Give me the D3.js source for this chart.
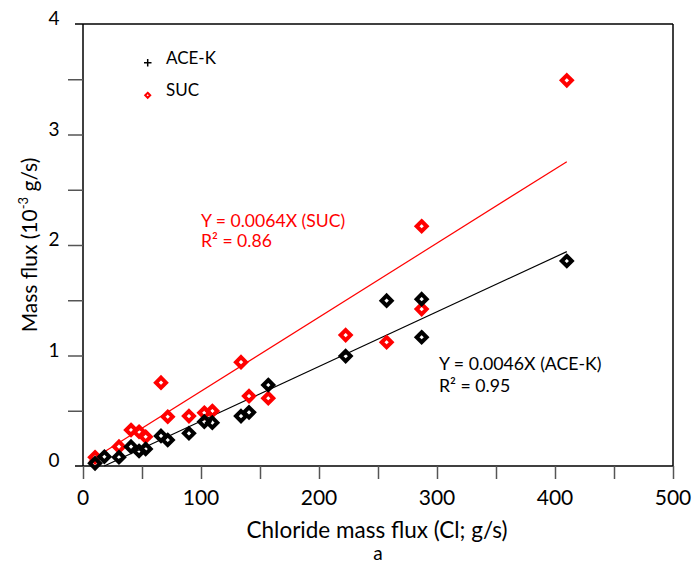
<!DOCTYPE html>
<html>
<head>
<meta charset="utf-8">
<script src="https://cdn.jsdelivr.net/npm/d3@7"></script>
<style>
  body { margin: 0; background: #fff; }
  svg text { font-family: Lato, "Open Sans", sans-serif; }
</style>
</head>
<body>
<svg id="chart" width="693" height="561"></svg>
<script>
// chloride mass flux (g/s) for each sample
const aceX = [10.2, 18.1, 30.5, 40.7, 47.5, 53.1, 66.1, 71.8, 89.8, 102.8, 109.6, 133.9, 140.7, 157, 222.6, 257.3, 287, 287, 410];
const aceY = [0.024, 0.084, 0.079, 0.175, 0.136, 0.154, 0.272, 0.235, 0.296, 0.401, 0.392, 0.452, 0.486, 0.733, 0.995, 1.496, 1.51, 1.165, 1.855];
const sucX = [10.2, 30.5, 40.7, 47.5, 53.1, 66.1, 71.8, 89.8, 102.8, 109.6, 133.9, 140.7, 157, 222.6, 257.3, 287, 287, 410];
const sucY = [0.079, 0.175, 0.326, 0.31, 0.265, 0.754, 0.446, 0.452, 0.482, 0.498, 0.94, 0.633, 0.613, 1.185, 1.12, 2.17, 1.42, 3.49];

// fitted lines, end points
const aceFitX = [18, 410];
const aceFitY = [0, 1.94];
const sucFitX = [5, 410];
const sucFitY = [0.04, 2.754];

const xTicks = [0, 100, 200, 300, 400, 500];
const yTicks = [0, 1, 2, 3, 4];

const margin = {top: 24, right: 20, bottom: 95, left: 83};
const width = 693, height = 561;
const svg = d3.select("#chart");

const x = d3.scaleLinear().domain([0, 500]).range([margin.left, width - margin.right]);
const y = d3.scaleLinear().domain([0, 4]).range([height - margin.bottom, margin.top]);

const red = "#ff0000";
const tickColor = "#555";

// frame top + right
svg.append("line")
    .attr("x1", x(0) - 8).attr("x2", x(500))
    .attr("y1", y(4)).attr("y2", y(4))
    .attr("stroke", "#000").attr("stroke-width", 1.5);
svg.append("line")
    .attr("x1", x(500)).attr("x2", x(500))
    .attr("y1", y(4)).attr("y2", y(0))
    .attr("stroke", "#000").attr("stroke-width", 1.5);

// x axis
const xAxis = svg.append("g")
    .attr("transform", `translate(0,${y(0)})`)
    .call(d3.axisBottom(x).tickValues(d3.range(0, 501, 50)).tickSize(13).tickFormat(""));
xAxis.select(".domain").attr("stroke", "#000").attr("stroke-width", 1.5)
    .attr("d", `M${x(0) - 8},0H${x(500)}`);
xAxis.selectAll(".tick line").attr("stroke", tickColor).attr("stroke-width", 1.5);

svg.append("g").selectAll("text")
    .data(xTicks)
    .join("text")
    .attr("x", d => x(d))
    .attr("y", y(0) + 39)
    .attr("text-anchor", "middle")
    .attr("font-size", 21)
    .text(d => d);

// y axis
const yAxis = svg.append("g")
    .attr("transform", `translate(${x(0)},0)`)
    .call(d3.axisLeft(y).tickValues(d3.range(0.5, 4, 0.5)).tickSize(15).tickFormat(""));
yAxis.select(".domain").attr("stroke", "#000").attr("stroke-width", 1.5)
    .attr("d", `M0,${y(4)}V${y(0)}`);
yAxis.selectAll(".tick line").attr("stroke", tickColor).attr("stroke-width", 1.5);

svg.append("g").selectAll("text")
    .data(yTicks)
    .join("text")
    .attr("x", x(0) - 29)
    .attr("y", d => y(d) + 1)
    .attr("text-anchor", "middle")
    .attr("font-size", 19)
    .text(d => d);

// axis titles
svg.append("text")
    .attr("x", 377).attr("y", 538)
    .attr("text-anchor", "middle")
    .attr("font-size", 22.5)
    .text("Chloride mass flux (Cl; g/s)");
svg.append("text")
    .attr("x", 378).attr("y", 560)
    .attr("text-anchor", "middle")
    .attr("font-size", 19)
    .text("a");

const yTitle = svg.append("text")
    .attr("transform", `translate(37,245) rotate(-90)`)
    .attr("text-anchor", "middle")
    .attr("font-size", 21);
yTitle.append("tspan").text("Mass flux (10");
yTitle.append("tspan").attr("font-size", 13).attr("dy", -9).text("-3");
yTitle.append("tspan").attr("dy", 9).text(" g/s)");

// fit lines
const line = d3.line().x(d => x(d[0])).y(d => y(d[1]));
svg.append("path")
    .attr("d", line(d3.zip(aceFitX, aceFitY)))
    .attr("stroke", "#000").attr("stroke-width", 1.2).attr("fill", "none");
svg.append("path")
    .attr("d", line(d3.zip(sucFitX, sucFitY)))
    .attr("stroke", red).attr("stroke-width", 1.2).attr("fill", "none");

// diamond markers
const diamond = (r) => `M0,${-r}L${r},0L0,${r}L${-r},0Z`;

svg.append("g").selectAll("path")
    .data(d3.zip(sucX, sucY))
    .join("path")
    .attr("transform", d => `translate(${x(d[0])},${y(d[1])})`)
    .attr("d", diamond(5))
    .attr("fill", "none").attr("stroke", red).attr("stroke-width", 4);

svg.append("g").selectAll("path")
    .data(d3.zip(aceX, aceY))
    .join("path")
    .attr("transform", d => `translate(${x(d[0])},${y(d[1])})`)
    .attr("d", diamond(5))
    .attr("fill", "none").attr("stroke", "#000").attr("stroke-width", 4);

// legend
const legend = svg.append("g");
legend.append("path")
    .attr("d", "M144,62.7H151.5M147.7,59V66.5")
    .attr("stroke", "#000").attr("stroke-width", 1.5);
legend.append("text")
    .attr("x", 166).attr("y", 64)
    .attr("font-size", 17)
    .text("ACE-K");
legend.append("path")
    .attr("transform", "translate(147.7,95.3)")
    .attr("d", diamond(2.5))
    .attr("fill", "none").attr("stroke", red).attr("stroke-width", 2);
legend.append("text")
    .attr("x", 166).attr("y", 96)
    .attr("font-size", 17)
    .text("SUC");

// equations
const sucEq = svg.append("text")
    .attr("x", 201).attr("y", 227)
    .attr("font-size", 17.6).attr("fill", red);
sucEq.append("tspan").text("Y = 0.0064X (SUC)");
sucEq.append("tspan").attr("x", 201).attr("dy", 20).text("R² = 0.86");

const aceEq = svg.append("text")
    .attr("x", 439).attr("y", 370)
    .attr("font-size", 17.7).attr("fill", "#000");
aceEq.append("tspan").text("Y = 0.0046X (ACE-K)");
aceEq.append("tspan").attr("x", 439).attr("dy", 22).text("R² = 0.95");
</script>
</body>
</html>
